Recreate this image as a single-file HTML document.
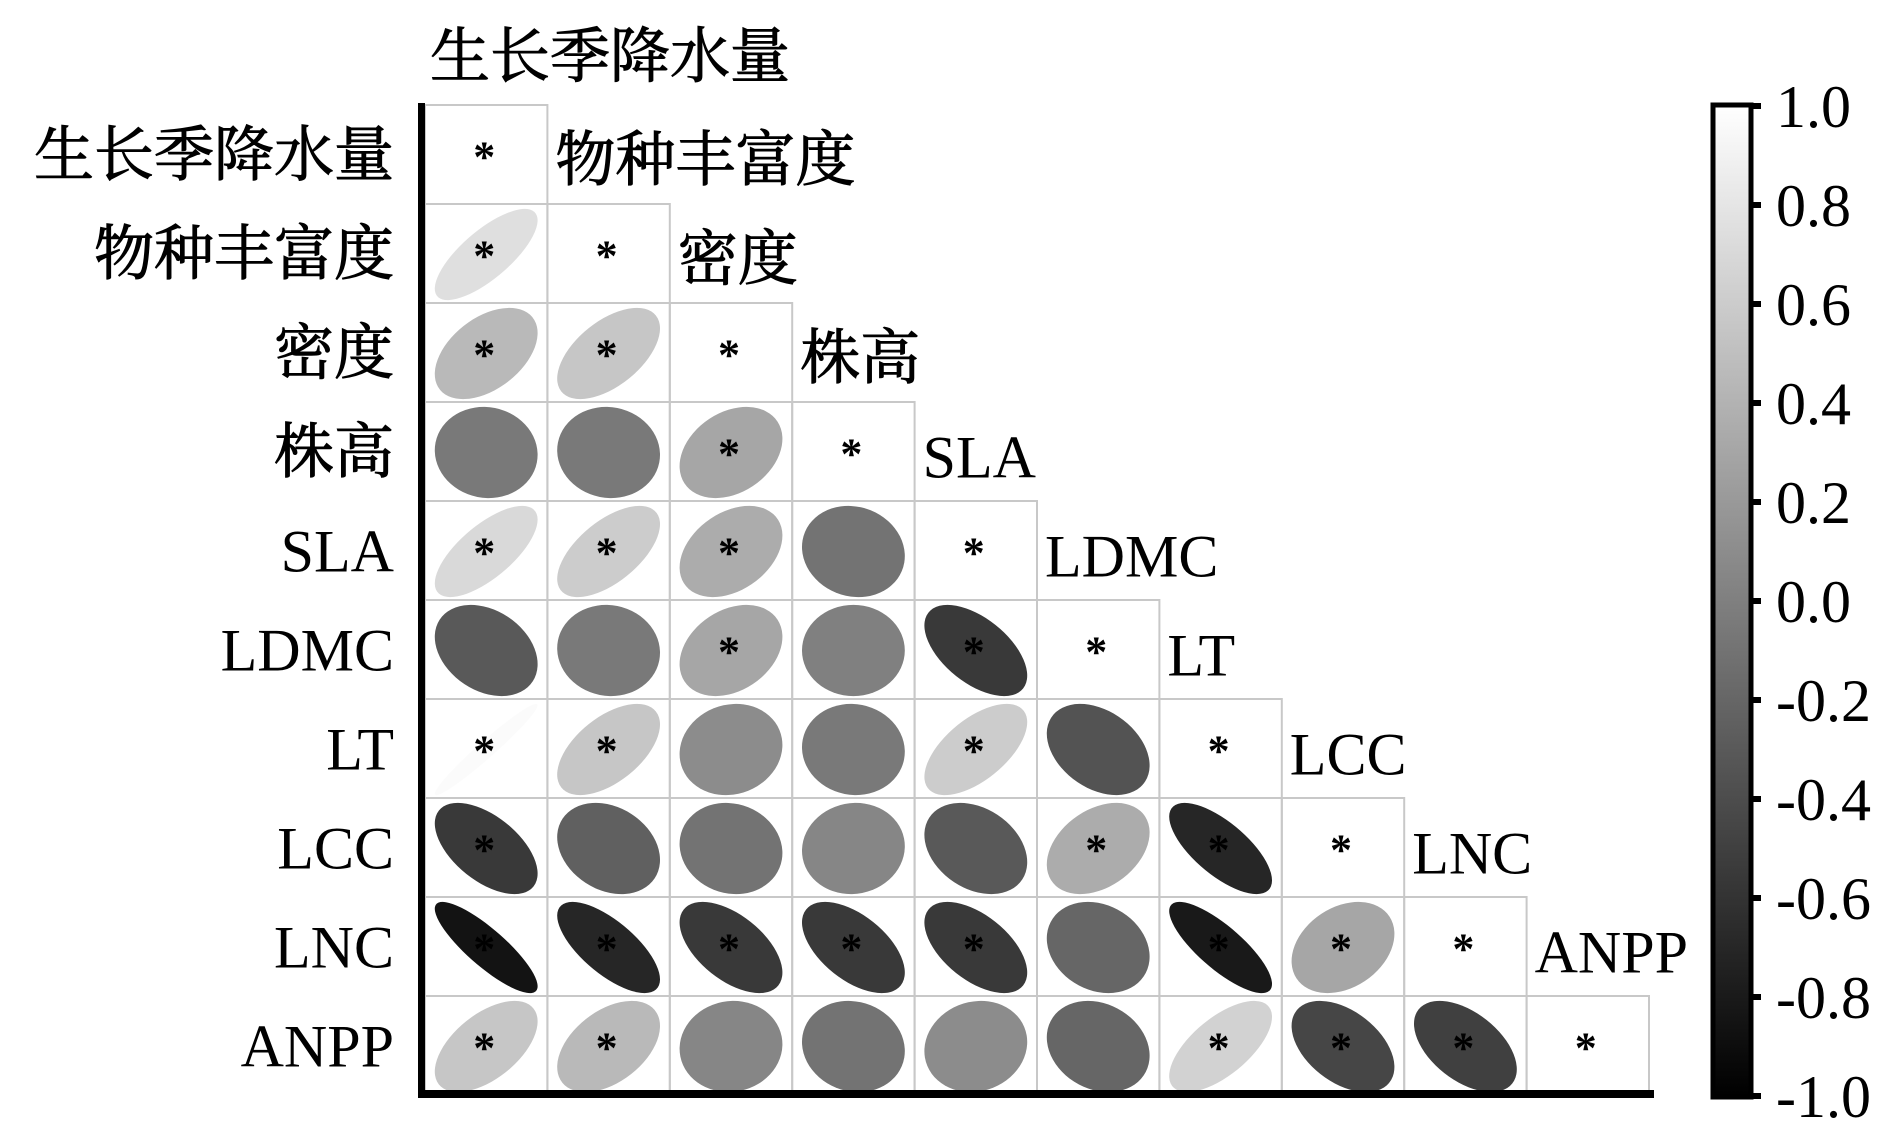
<!DOCTYPE html>
<html><head><meta charset="utf-8"><style>
html,body{margin:0;padding:0;background:#fff;}
svg{display:block;}
.l{font-family:"Liberation Serif","Noto Serif CJK SC",serif;font-size:60px;fill:#000;}
.z{font-family:"Liberation Serif","Noto Serif CJK SC",serif;font-size:60px;fill:#000;stroke:#000;stroke-width:1;}
.c{font-family:"Liberation Serif","Noto Serif CJK SC",serif;font-size:60px;fill:#000;stroke:#000;stroke-width:1;}
.a{font-family:"Liberation Serif",serif;font-size:44px;fill:#000;font-weight:bold;}
</style></head><body>
<svg id="s" width="1890" height="1134" xmlns="http://www.w3.org/2000/svg">
<defs><linearGradient id="g" x1="0" y1="0" x2="0" y2="1"><stop offset="0" stop-color="#fff"/><stop offset="1" stop-color="#000"/></linearGradient></defs>
<g id="cells"></g>
<g id="labels">
<text class="c" x="430" y="77">生长季降水量</text>
</g>
<rect x="418" y="103" width="7" height="995" fill="#000"/>
<rect x="418" y="1090" width="1236" height="8" fill="#000"/>
<rect x="1713" y="105" width="38" height="992" fill="url(#g)" stroke="#000" stroke-width="5"/>
<g id="cb"></g>
</svg>
<script>
var NS="http://www.w3.org/2000/svg";
var X0=425,W=122.4,Y0=105,H=99;
var names=["生长季降水量","物种丰富度","密度","株高","SLA","LDMC","LT","LCC","LNC","ANPP"];
var R=[[],
[0.75],
[0.45,0.55],
[-0.05,-0.05,0.3],
[0.7,0.6,0.35,-0.1],
[-0.3,-0.05,0.3,0,-0.55],
[0.97,0.55,0.1,-0.05,0.6,-0.35],
[-0.55,-0.25,-0.1,0.05,-0.3,0.35,-0.7],
[-0.85,-0.7,-0.55,-0.55,-0.55,-0.2,-0.8,0.3],
[0.55,0.45,0.05,-0.1,0.1,-0.2,0.65,-0.45,-0.5]];
var S=[[],[0],[0,1],[2],[0,1,2],[2,4],[0,1,4],[0,5,6],[0,1,2,3,4,6,7],[0,1,6,7,8]];
var cells=document.getElementById("cells"),lab=document.getElementById("labels");
function el(t,a,p){var e=document.createElementNS(NS,t);for(var k in a)e.setAttribute(k,a[k]);(p||cells).appendChild(e);return e;}
function isCJK(s){return /[^\x00-\x7f]/.test(s);}
for(var i=0;i<10;i++){
 var y=Y0+i*H;
 for(var j=0;j<=i;j++){
  var x=X0+j*W,cx=x+W/2,cy=y+H/2;
  el("rect",{x:x,y:y,width:W,height:H,fill:"none",stroke:"#c8c8c8","stroke-width":2});
  if(j<i){
   var r=R[i][j],gv=Math.round((r+1)/2*255);
   var g=el("g",{transform:"translate("+cx+","+(cy+1)+") scale(53,-47) rotate(45)"});
   var e=document.createElementNS(NS,"ellipse");
   e.setAttribute("rx",Math.sqrt(1+r)*0.97);e.setAttribute("ry",Math.max(Math.sqrt(1-r)*0.97,0.04));
   e.setAttribute("fill","rgb("+gv+","+gv+","+gv+")");g.appendChild(e);
  }
  var star=(j==i)||S[i].indexOf(j)>=0;
  if(star){var t=el("text",{x:cx-2,y:cy+17,"text-anchor":"middle","class":"a"});t.textContent="*";}
 }
 var cl=isCJK(names[i])?"z":"l";
 var t=el("text",{x:394,y:y+H/2+21,"text-anchor":"end","class":cl},lab);t.textContent=names[i];
 if(i>0){var t2=el("text",{x:X0+i*W+8,y:Y0+(i-1)*H+H/2+26,"class":cl},lab);t2.textContent=names[i];}
}
var cb=document.getElementById("cb");
var vals=["1.0","0.8","0.6","0.4","0.2","0.0","-0.2","-0.4","-0.6","-0.8","-1.0"];
for(var k=0;k<11;k++){
 var ty=106+k*99;
 el("rect",{x:1751,y:ty-3,width:10,height:6,fill:"#000"},cb);
 var t=el("text",{x:1776,y:ty+21,"class":"l"},cb);t.textContent=vals[k];
}
</script>
</body></html>
